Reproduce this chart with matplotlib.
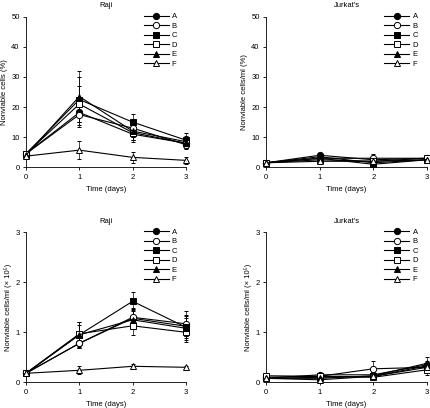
import matplotlib
matplotlib.use("Agg")
import matplotlib.pyplot as plt
import numpy as np

plt.rcParams['font.family'] = ['Liberation Sans', 'DejaVu Sans']

days = [0, 1, 2, 3]
labels = ['A', 'B', 'C', 'D', 'E', 'F']

# Raji, nonviable cells (%)
raji_pct = {
    'A': [4.5, 18.2, 11.0, 8.0],
    'B': [4.5, 17.5, 13.0, 7.5],
    'C': [4.5, 22.5, 15.0, 9.0],
    'D': [4.5, 21.0, 11.5, 8.0],
    'E': [4.0, 23.5, 12.0, 8.5],
    'F': [3.7, 5.7, 3.3, 2.3],
}
raji_pct_err = {
    'A': [0.5, 4.0, 2.5, 1.5],
    'B': [0.5, 4.0, 3.0, 1.5],
    'C': [0.5, 7.5, 2.7, 2.3],
    'D': [0.5, 6.0, 2.5, 1.5],
    'E': [0.5, 8.5, 3.0, 2.0],
    'F': [0.5, 3.0, 1.8, 1.2],
}
# Jurkat's, nonviable cells (%)
jur_pct = {
    'A': [1.5, 4.0, 2.5, 3.0],
    'B': [1.5, 3.0, 3.0, 3.0],
    'C': [1.5, 3.0, 1.0, 2.5],
    'D': [1.5, 2.5, 2.0, 3.0],
    'E': [1.5, 3.5, 1.5, 2.5],
    'F': [1.5, 2.0, 2.0, 2.5],
}
jur_pct_err = {
    'A': [0.4, 0.8, 1.0, 0.6],
    'B': [0.4, 0.8, 1.5, 0.8],
    'C': [0.4, 0.8, 0.8, 0.6],
    'D': [0.4, 0.8, 1.0, 0.8],
    'E': [0.4, 0.8, 1.0, 0.6],
    'F': [0.4, 1.0, 1.0, 0.6],
}
# Raji, nonviable cells/ml (x10^5)
raji_cnt = {
    'A': [0.18, 0.78, 1.28, 1.12],
    'B': [0.18, 0.78, 1.30, 1.17],
    'C': [0.18, 0.95, 1.62, 1.10],
    'D': [0.18, 0.97, 1.13, 1.00],
    'E': [0.18, 0.95, 1.25, 1.08],
    'F': [0.18, 0.24, 0.32, 0.30],
}
raji_cnt_err = {
    'A': [0.02, 0.10, 0.18, 0.20],
    'B': [0.02, 0.10, 0.18, 0.25],
    'C': [0.02, 0.25, 0.18, 0.25],
    'D': [0.02, 0.23, 0.18, 0.20],
    'E': [0.02, 0.20, 0.18, 0.20],
    'F': [0.02, 0.08, 0.04, 0.03],
}
# Jurkat's, nonviable cells/ml (x10^5)
jur_cnt = {
    'A': [0.08, 0.15, 0.15, 0.35],
    'B': [0.10, 0.12, 0.27, 0.30],
    'C': [0.08, 0.10, 0.12, 0.33],
    'D': [0.13, 0.12, 0.10, 0.25],
    'E': [0.08, 0.08, 0.13, 0.38],
    'F': [0.08, 0.05, 0.12, 0.30],
}
jur_cnt_err = {
    'A': [0.02, 0.03, 0.05, 0.08],
    'B': [0.02, 0.03, 0.15, 0.08],
    'C': [0.02, 0.03, 0.05, 0.08],
    'D': [0.02, 0.03, 0.05, 0.10],
    'E': [0.02, 0.03, 0.05, 0.12],
    'F': [0.02, 0.03, 0.05, 0.08],
}

styles = {
    'A': ('o', 'black'),
    'B': ('o', 'white'),
    'C': ('s', 'black'),
    'D': ('s', 'white'),
    'E': ('^', 'black'),
    'F': ('^', 'white'),
}

fig = plt.figure(figsize=(4.31, 4.08), dpi=100)
W, H = 431, 408

def add_ax(x0, x1, ytop, ybot):
    return fig.add_axes([x0 / W, (H - ybot) / H, (x1 - x0) / W, (ybot - ytop) / H])

panels = [
    (add_ax(26, 186, 16.7, 167.3), raji_pct, raji_pct_err, 'Raji', 'Nonviable cells (%)', 50, [0, 10, 20, 30, 40, 50]),
    (add_ax(266, 427, 16.7, 167.3), jur_pct, jur_pct_err, "Jurkat's", 'Nonviable cells/ml (%)', 50, [0, 10, 20, 30, 40, 50]),
    (add_ax(26, 186, 232.3, 382.3), raji_cnt, raji_cnt_err, 'Raji', 'Nonviable cells/ml (\u00d7 10\u2075)', 3, [0, 1, 2, 3]),
    (add_ax(266, 427, 232.3, 382.3), jur_cnt, jur_cnt_err, "Jurkat's", 'Nonviable cells/ml (\u00d7 10\u2075)', 3, [0, 1, 2, 3]),
]

fs = 5.5
for ax, data, err, title, ylabel, ymax, yticks in panels:
    for lab in labels:
        m, fc = styles[lab]
        ax.errorbar(days, data[lab], yerr=err[lab], color='black', lw=0.8,
                    marker=m, markersize=4.5 if m != '^' else 5, mfc=fc, mec='black', mew=0.7,
                    ecolor='black', elinewidth=0.5, capsize=1.5, capthick=0.5,
                    clip_on=False, label=lab, zorder=3)
    ax.set_xlim(0, 3)
    ax.set_ylim(0, ymax)
    ax.set_xticks(days)
    ax.set_yticks(yticks)
    for s in ['top', 'right']:
        ax.spines[s].set_visible(False)
    for s in ['left', 'bottom']:
        ax.spines[s].set_linewidth(0.6)
    ax.tick_params(direction='out', length=2.5, width=0.6, labelsize=fs, pad=2)
    ax.set_title(title, fontsize=fs, pad=7)
    ax.set_xlabel('Time (days)', fontsize=fs, labelpad=4)
    ax.set_ylabel(ylabel, fontsize=fs, labelpad=2.5)
    handles, labs = ax.get_legend_handles_labels()
    handles = [h[0] for h in handles]
    ax.legend(handles, labs, loc='upper left', bbox_to_anchor=(0.725, 1.035),
              frameon=False, fontsize=fs, handlelength=3.3, handletextpad=0.4,
              labelspacing=0.28, borderpad=0.2, borderaxespad=0)

fig.savefig('out.png', dpi=100)
